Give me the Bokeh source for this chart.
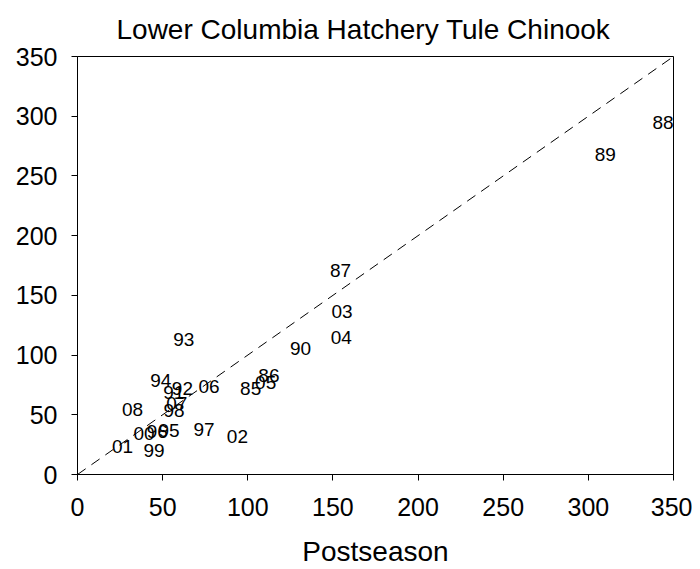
from bokeh.plotting import figure
from bokeh.models import ColumnDataSource, Range1d, FixedTicker, Title
from bokeh.core.properties import value
from bokeh.embed import file_html
from bokeh.resources import INLINE

years = ["85", "86", "87", "88", "89", "90", "91", "92", "93", "94", "95", "96",
         "97", "98", "99", "00", "01", "02", "03", "04", "05", "06", "07", "08"]
postseason = [101.7, 112.4, 154.5, 343.8, 309.9, 131.0, 56.5, 61.6, 62.4, 48.9, 53.7, 46.9,
              74.3, 56.7, 44.9, 39.1, 26.4, 93.9, 155.4, 154.9, 110.5, 77.2, 58.3, 32.3]
preseason = [71.6, 83.3, 170.8, 294.8, 267.6, 105.3, 68.8, 71.9, 113.3, 78.8, 37.0, 35.6,
             37.6, 53.8, 20.3, 34.3, 23.7, 32.0, 136.5, 114.5, 77.2, 73.8, 59.4, 54.3]
ticks = [0, 50, 100, 150, 200, 250, 300, 350]
diag = [0, 350]

FONT = "Liberation Sans"

p = figure(width=692, height=569, output_backend="svg", toolbar_location=None,
           x_range=Range1d(0, 350), y_range=Range1d(0, 350),
           min_border_left=77, min_border_right=19, min_border_top=56, min_border_bottom=95)
p.background_fill_color = "white"
p.border_fill_color = "white"
p.outline_line_color = "black"
p.outline_line_width = 1
p.xgrid.visible = False
p.ygrid.visible = False

title = Title(text="Lower Columbia Hatchery Tule Chinook", align="left", offset=39,
              vertical_align="top",
              text_font=FONT, text_font_size="28px", text_font_style="normal",
              text_color="black", standoff=20)
p.add_layout(title, "above")

for ax in (p.xaxis[0], p.yaxis[0]):
    ax.ticker = FixedTicker(ticks=ticks)
    ax.major_label_text_font = FONT
    ax.major_label_text_font_size = "25px"
    ax.major_label_text_color = "black"
    ax.axis_line_color = "black"
    ax.major_tick_line_color = "black"
    ax.major_tick_out = 6
    ax.major_tick_in = 0
    ax.minor_tick_out = 0
    ax.minor_tick_in = 0

p.xaxis.major_label_standoff = 17
p.yaxis.major_label_standoff = 14
p.xaxis.axis_label = "Postseason"
p.xaxis.axis_label_text_font = FONT
p.xaxis.axis_label_text_font_size = "28px"
p.xaxis.axis_label_text_font_style = "normal"
p.xaxis.axis_label_text_color = "black"
p.xaxis.axis_label_standoff = 17

p.line(diag, diag, line_color="black", line_width=1, line_dash="10 7")

src = ColumnDataSource(dict(x=postseason, y=preseason, t=years))
p.text(x="x", y="y", text="t", source=src, text_font=value(FONT),
       text_font_size="19px", text_align="center", text_baseline="middle",
       text_color="black")

open("out.html", "w").write(file_html(p, INLINE))
